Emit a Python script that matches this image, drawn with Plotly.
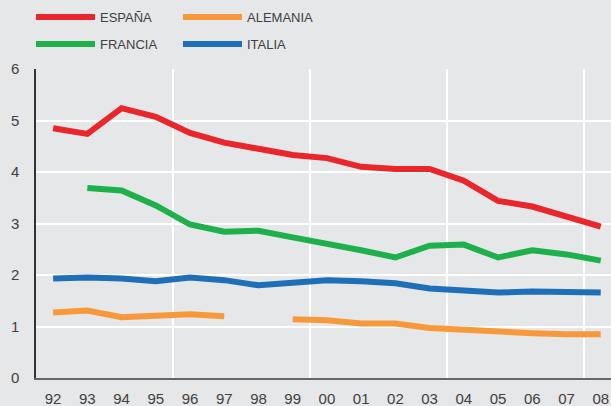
import plotly.graph_objects as go

years = list(range(1992, 2009))
tick_labels = ["92", "93", "94", "95", "96", "97", "98", "99", "00", "01",
               "02", "03", "04", "05", "06", "07", "08"]

espana = [4.85, 4.74, 5.24, 5.07, 4.76, 4.57, 4.45, 4.33, 4.27, 4.10,
          4.06, 4.06, 3.83, 3.44, 3.33, 3.13, 2.94]
francia = [None, 3.69, 3.64, 3.35, 2.98, 2.84, 2.86, 2.73, 2.61, 2.48,
           2.34, 2.57, 2.59, 2.34, 2.48, 2.40, 2.28]
italia = [1.93, 1.95, 1.93, 1.88, 1.95, 1.90, 1.80, 1.84, 1.90, 1.88,
          1.84, 1.74, 1.70, 1.66, 1.68, 1.68, 1.66]
alemania = [1.27, 1.31, 1.18, 1.22, 1.24, 1.20, None, 1.14, 1.12, 1.06,
            1.06, 0.97, 0.93, 0.91, 0.87, 0.85, 0.85]

y_ticks = [0, 1, 2, 3, 4, 5, 6]
x_grid = [1995.5, 1999.5, 2003.5, 2007.5]

BG = "#E6E7E9"
TXT = "#404040"
FONT = "Liberation Sans, Arial, sans-serif"

series = [
    ("ESPAÑA", espana, "#E8262B", "legend"),
    ("ALEMANIA", alemania, "#F7993A", "legend"),
    ("FRANCIA", francia, "#1DB04B", "legend2"),
    ("ITALIA", italia, "#1E6FB8", "legend2"),
]

fig = go.Figure()
for name, vals, col, lg in series:
    fig.add_trace(go.Scatter(
        x=years, y=vals, name=name, mode="lines",
        line=dict(color=col, width=6),
        connectgaps=False, legend=lg,
    ))

leg_common = dict(
    orientation="h", xref="container", yref="container",
    xanchor="left", yanchor="middle",
    bgcolor="rgba(0,0,0,0)", font=dict(family=FONT, size=13, color=TXT),
    itemwidth=59, entrywidth=73, traceorder="normal",
    tracegroupgap=0, itemclick=False,
)

fig.update_layout(
    width=611, height=406,
    margin=dict(l=36, r=0, t=69, b=28, autoexpand=False),
    paper_bgcolor=BG, plot_bgcolor=BG,
    font=dict(family=FONT, color=TXT),
    showlegend=True,
    legend=dict(x=31 / 611, y=1 - 17 / 406, **leg_common),
    legend2=dict(x=31 / 611, y=1 - 44 / 406, **leg_common),
    xaxis=dict(
        range=[1991.5, 2008.3], automargin=False,
        tickvals=years, ticktext=tick_labels,
        showgrid=False, zeroline=False,
        showline=True, linecolor="#666666", linewidth=2,
        ticks="outside", ticklen=6, tickcolor=BG,
        tickfont=dict(family=FONT, size=15, color=TXT),
        minor=dict(tickvals=x_grid, showgrid=True, gridcolor="white",
                   gridwidth=2, ticks=""),
    ),
    yaxis=dict(
        range=[0, 6], tickvals=y_ticks, automargin=False,
        showgrid=True, gridcolor="white", gridwidth=2,
        zeroline=False,
        showline=True, linecolor="#333333", linewidth=1.5,
        ticks="outside", ticklen=12, tickcolor=BG,
        tickfont=dict(family=FONT, size=15, color=TXT),
    ),
)

fig.write_html(
    "out.html",
    config={"displayModeBar": False},
    post_script="document.body.style.margin='0';document.body.style.background='%s';" % BG,
)
